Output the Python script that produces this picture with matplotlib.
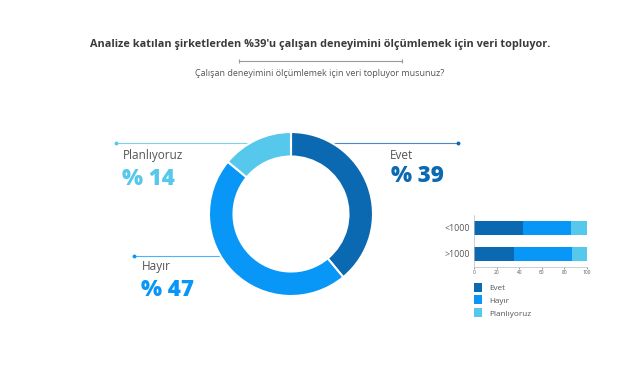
import matplotlib.pyplot as plt

plt.rcParams['font.family'] = ['Open Sans', 'DejaVu Sans']

# data
labels = ['Evet', 'Hayır', 'Planlıyoruz']
shares = [39, 47, 14]
colors = ['#0b69b2', '#0997f7', '#55c8eb']

groups = ['>1000', '<1000']
evet = [35, 43]
hayir = [52, 43]
planliyoruz = [13, 14]

title = "Analize katılan şirketlerden %39'u çalışan deneyimini ölçümlemek için veri topluyor."
subtitle = "Çalışan deneyimini ölçümlemek için veri topluyor musunuz?"

W, H = 641, 380
fig = plt.figure(figsize=(W / 100, H / 100), dpi=100)

# overlay in pixel coordinates for texts and leader lines
ov = fig.add_axes([0, 0, 1, 1], zorder=0)
ov.set_xlim(0, W)
ov.set_ylim(H, 0)
ov.axis('off')

ov.text(320, 45, title, ha='center', va='center', fontsize=7.8,
        fontweight='bold', color='#3a3a3a')
ov.plot([239, 402], [61, 61], color='#9a9a9a', lw=0.8)
ov.plot([239, 402], [61, 61], ls='none', marker='|', ms=2.5, color='#9a9a9a', mew=0.8)
ov.text(320, 74, subtitle, ha='center', va='center', fontsize=6.5, color='#555555')

# leader lines (end under the ring)
ov.plot([116, 291], [143, 143], color='#7fd0ef', lw=0.8)
ov.plot([116], [143], 'o', ms=1.8, color='#55c8eb')
ov.plot([291, 458], [143, 143], color='#4d88c4', lw=0.8)
ov.plot([458], [143], 'o', ms=1.8, color='#0b69b2')
ov.plot([134, 240], [256, 256], color='#4fb2f7', lw=0.8)
ov.plot([134], [256], 'o', ms=1.8, color='#0997f7')

# slice labels
big = dict(fontsize=16, fontweight='heavy', va='baseline')
ov.text(123, 159, labels[2], fontsize=8.5, color='#555555', va='baseline')
ov.text(122, 185, '% ' + str(shares[2]), color=colors[2], **big)
ov.text(142, 270, labels[1], fontsize=8.5, color='#555555', va='baseline')
ov.text(141, 296.5, '% ' + str(shares[1]), color=colors[1], **big)
ov.text(390, 159, labels[0], fontsize=8.5, color='#555555', va='baseline')
ov.text(391, 182.5, '% ' + str(shares[0]), color=colors[0], **big)

# donut
cx, cy, half = 291, 214, 90
ax = fig.add_axes([(cx - half) / W, (H - cy - half) / H, 2 * half / W, 2 * half / H], zorder=1)
ax.pie(shares, colors=colors, startangle=90, counterclock=False,
       radius=82 / half, wedgeprops=dict(width=24.5 / half, edgecolor='white', linewidth=1.5))
ax.set_xlim(-1, 1)
ax.set_ylim(-1, 1)
ax.set_aspect('equal')

# small stacked bar chart
bx = fig.add_axes([474 / W, (H - 267) / H, 113 / W, 52 / H], zorder=1)
ypos = range(len(groups))
bx.barh(ypos, evet, height=0.52, color=colors[0], label=labels[0])
bx.barh(ypos, hayir, left=evet, height=0.52, color=colors[1], label=labels[1])
left2 = [a + b for a, b in zip(evet, hayir)]
bx.barh(ypos, planliyoruz, left=left2, height=0.52, color=colors[2], label=labels[2])
bx.set_xlim(0, 100)
bx.set_ylim(-0.51, 1.49)
bx.set_yticks(list(ypos))
bx.set_yticklabels(groups, fontsize=6.3, color='#555555')
bx.set_xticks(range(0, 101, 20))
bx.tick_params(axis='x', labelsize=3.5, length=1.5, width=0.4, pad=1, colors='#555555')
bx.tick_params(axis='y', length=0, pad=3)
for s in ['top', 'right']:
    bx.spines[s].set_visible(False)
for s in ['left', 'bottom']:
    bx.spines[s].set_color('#bbbbbb')
    bx.spines[s].set_linewidth(0.5)
bx.legend(loc='upper left', bbox_to_anchor=(0, -0.3), frameon=False, fontsize=5.9,
          handlelength=1.0, handleheight=1.3, handletextpad=0.9, labelspacing=0.45,
          labelcolor='#555555', borderaxespad=0, borderpad=0)

fig.savefig('out.png', dpi=100, facecolor='white')
